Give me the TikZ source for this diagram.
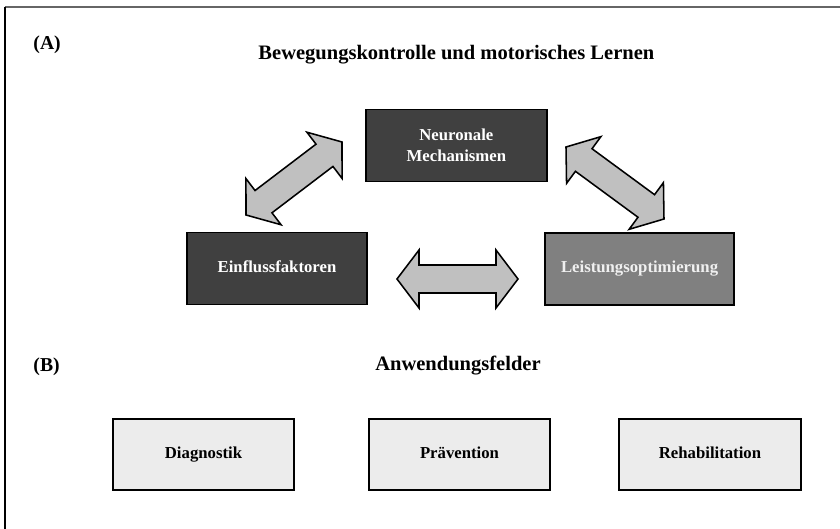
\documentclass[tikz,border=0pt]{standalone}
\usepackage{fontspec}
\setmainfont{Liberation Serif}
\usepackage{tikz}
\usetikzlibrary{calc}

\definecolor{darkfill}{HTML}{404040}
\definecolor{midfill}{HTML}{808080}
\definecolor{lightfill}{HTML}{ECECEC}
\definecolor{arrowgray}{HTML}{C0C0C0}
\definecolor{framegray}{HTML}{666666}

\tikzset{
    box/.style={draw=black, line width=1.3pt, minimum width=4.525cm, minimum height=1.8cm,
        align=center, font=\fontsize{11.9}{15}\selectfont\bfseries},
    oneline/.style={text height=1.55ex, text depth=0.45ex},
    darkbox/.style={box, fill=darkfill, text=white},
    midbox/.style={box, oneline, fill=midfill, text=white!94!black},
    lightbox/.style={box, oneline, fill=lightfill, text=black, minimum height=1.775cm},
    heading/.style={font=\fontsize{14.6}{17}\selectfont\bfseries},
    partlabel/.style={anchor=west, inner sep=0pt, font=\fontsize{14}{16}\selectfont\bfseries},
    fatarrow/.style={draw=black, fill=arrowgray, line width=1.1pt, line join=miter}
}

% fat double arrow between two named tips
\def\headlen{0.55cm}
\def\headwid{0.725cm}
\def\bodywid{0.35cm}
\newcommand{\fatarrow}[2]{%
    \coordinate (h1) at ($(#1)!\headlen!(#2)$);
    \coordinate (h2) at ($(#2)!\headlen!(#1)$);
    \filldraw[fatarrow] (#1)
        -- ($(h1)!\headwid!90:(#2)$) -- ($(h1)!\bodywid!90:(#2)$)
        -- ($(h2)!\bodywid!-90:(#1)$) -- ($(h2)!\headwid!-90:(#1)$)
        -- (#2)
        -- ($(h2)!\headwid!90:(#1)$) -- ($(h2)!\bodywid!90:(#1)$)
        -- ($(h1)!\bodywid!-90:(#2)$) -- ($(h1)!\headwid!-90:(#2)$) -- cycle;
}

\begin{document}
\begin{tikzpicture}
    \useasboundingbox (0,0) rectangle (21,13.225);

    % frame
    \draw[framegray, line width=1.5pt] (0.125,13.06) -- (21,13.06);
    \draw[black, line width=1.2pt] (0.125,13.06) -- (0.125,0);

    % part (A)
    \node[partlabel] (labA) at (0.83,12.1) {(A)};
    \node[heading] (titleA) at (11.41,11.85) {Bewegungskontrolle und motorisches Lernen};

    \node[darkbox] (neuro) at (11.41,9.5875) {Neuronale\\Mechanismen};
    \node[darkbox, oneline, minimum width=4.5cm] (einfluss) at (6.925,6.5125) {Einflussfaktoren};
    \node[midbox, minimum width=4.725cm] (leistung) at (15.99,6.49) {Leistungsoptimierung};

    % arrow tips
    \coordinate (ea) at (6.15,7.85);
    \coordinate (na) at (8.55,9.675);
    \coordinate (nb) at (14.15,9.55);
    \coordinate (lb) at (16.6,7.75);
    \coordinate (ec) at (9.925,6.25);
    \coordinate (lc) at (12.95,6.25);

    \fatarrow{ea}{na}
    \fatarrow{nb}{lb}
    \fatarrow{ec}{lc}

    % part (B)
    \node[partlabel] (labB) at (0.83,4.05) {(B)};
    \node[heading] (titleB) at (11.45,4.075) {Anwendungsfelder};

    \node[lightbox] (diag) at (5.0875,1.8625) {Diagnostik};
    \node[lightbox] (praev) at (11.4875,1.8625) {Prävention};
    \node[lightbox, minimum width=4.55cm] (reha) at (17.75,1.8625) {Rehabilitation};
\end{tikzpicture}
\end{document}
